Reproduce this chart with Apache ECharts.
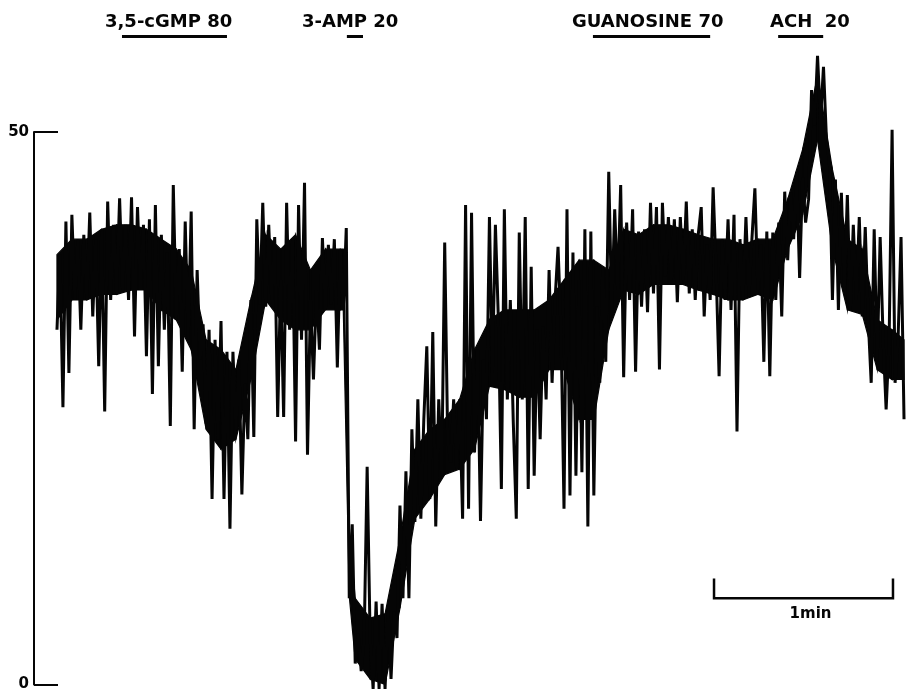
<!DOCTYPE html>
<html>
<head>
<meta charset="utf-8">
<script src="https://cdn.jsdelivr.net/npm/echarts@6/dist/echarts.min.js"></script>
<style>
html,body{margin:0;padding:0;background:#fff;}
#chart{width:907px;height:692px;}
</style>
</head>
<body>
<div id="chart"></div>
<script>
const traceValues = [
  32.1,38.9,25.1,41.9,28.2,42.5,34.8,40.3,32.1,40.7,34.8,42.7,33.3,40.3,28.8,41.2,24.7,43.7,34.8,41.6,
  35.3,44.0,35.7,41.6,34.8,44.1,31.5,43.2,35.7,41.6,29.7,42.1,26.3,43.4,28.8,40.7,32.1,39.1,23.4,45.2,
  33.0,39.4,28.3,41.9,31.2,42.8,23.1,37.5,
  29.4,32.6,23.6,32.1,16.8,31.2,22.2,32.9,16.8,30.1,14.1,30.1,23.1,29.4,17.2,27.2,22.2,34.8,22.4,42.1,
  34.4,43.6,34.2,41.6,34.8,40.5,24.2,36.6,24.2,43.6,32.1,40.3,22.0,43.4,31.2,45.4,20.8,34.8,27.6,35.7,
  30.3,40.4,33.9,39.8,34.4,40.3,28.7,39.4,33.9,41.3,
  7.8,14.5,1.9,4.6,1.2,4.2,19.7,4.2,-0.4,7.5,-0.4,7.3,-0.4,6.9,0.5,6.6,4.2,16.2,7.8,19.3,
  7.8,23.1,14.7,25.8,15.0,24.0,30.6,16.8,31.9,14.3,25.8,18.9,40.0,22.2,20.1,25.8,19.5,25.8,15.0,43.4,
  15.9,42.7,21.0,30.3,14.8,29.4,24.0,42.3,28.2,41.6,
  33.0,17.7,43.0,25.8,34.8,23.7,15.0,40.9,25.8,42.3,17.7,37.8,18.9,32.1,22.2,32.4,25.8,37.5,27.3,34.8,
  39.6,32.1,15.9,43.0,17.1,39.1,18.9,36.6,19.2,41.2,14.3,41.0,17.1,34.2,27.3,37.8,29.2,46.4,33.9,43.0,
  35.7,45.2,27.8,41.8,34.8,43.0,28.3,41.0,34.2,41.2,
  33.7,43.6,35.4,43.2,28.5,43.6,36.9,42.3,36.6,42.1,34.6,42.3,36.6,43.7,35.4,41.2,34.8,40.7,43.2,33.3,
  39.8,34.8,45.0,37.5,27.9,40.3,34.8,42.1,33.9,42.5,22.9,40.3,34.8,42.3,35.1,40.3,44.9,35.7,39.8,29.2,
  41.0,27.9,40.9,34.8,41.8,33.3,44.6,38.4,44.5,40.3,
  46.4,36.8,45.9,41.8,43.9,53.8,50.6,56.9,51.1,55.9,49.3,47.2,34.8,45.7,33.9,44.5,35.7,44.3,33.9,41.6,
  34.8,42.3,33.3,41.4,33.0,27.3,41.2,29.2,40.5,31.2,24.9,31.0,50.2,27.3,31.2,40.5,24.0
];
const timeStep = 1; // seconds per sample

// Dense core of the trace (solid black band): times (s), upper and lower edges
const bandTimes = [0,5,10,15,20,25,30,35,40,45,50,55,60,65,70,75,80,85,90,95,96,98,
  100,105,110,115,120,125,130,135,140,145,150,155,160,165,170,175,180,185,190,195,
  200,205,210,215,220,225,230,235,240,245,250,255,260,265,270,275,280,284];
const bandUpper = [38.9,40.3,40.3,41.2,41.6,41.6,41.2,40.3,39.4,37.5,31.2,30.3,28.5,34.8,40.7,39.4,40.7,37.5,39.4,39.4,39.4,14.0,
  7.8,6.0,6.4,13.2,21.3,23.1,24.0,25.8,30.3,33.0,33.9,33.9,33.9,34.8,36.6,38.4,38.4,37.5,41.2,40.7,
  41.6,41.6,41.2,40.7,40.3,40.3,39.8,40.3,40.3,43.9,48.4,55.1,46.6,40.3,39.4,33.0,32.1,31.2];
const bandLower = [33.0,34.8,34.8,35.3,35.3,35.7,35.7,33.9,33.0,30.3,23.1,21.3,22.2,27.6,34.8,33.0,32.1,32.1,33.9,33.9,33.9,8.0,
  2.3,0.5,0.0,6.9,15.0,16.8,19.0,19.5,21.3,27.0,26.7,26.0,26.0,28.5,28.5,24.0,24.0,32.1,35.7,35.3,
  36.2,36.2,36.2,35.7,35.3,34.8,34.8,35.3,34.8,39.4,42.5,49.3,39.4,33.9,33.5,28.5,27.6,27.6];

// Drug application periods (s) and labels
const drugLabels = ['3,5-cGMP 80', '3-AMP 20', 'GUANOSINE 70', 'ACH  20'];
const drugPeriods = [[21.8, 57.0], [97.2, 102.6], [179.7, 219.0], [241.8, 256.9]];
const drugBarLevel = 58.7;

// Time scale bar: 1 min
const scaleBar = { start: 220.3, end: 280.3, level: 7.8, tick: 9.6, label: '1min' };

const yTicks = [0, 50];

const INK = '#050505';
const traceData = traceValues.map((v, i) => [i * timeStep, v]);
const bandData = bandTimes.map((t, i) => [t, bandUpper[i], bandLower[i]]);

const chart = echarts.init(document.getElementById('chart'), null, { renderer: 'canvas' });

function renderBand(params, api) {
  const i = params.dataIndex;
  if (i >= bandData.length - 1) return null;
  const a = bandData[i], b = bandData[i + 1];
  const pts = [api.coord([a[0], a[1]]), api.coord([b[0], b[1]]),
               api.coord([b[0], b[2]]), api.coord([a[0], a[2]])];
  return {
    type: 'polygon',
    shape: { points: pts },
    style: { fill: INK, stroke: INK, lineWidth: 1.2 }
  };
}

const option = {
  animation: false,
  backgroundColor: '#ffffff',
  grid: { left: 34, right: 0, top: 132, bottom: 6 },
  xAxis: { type: 'value', min: -7.7, max: 285, show: false },
  yAxis: {
    type: 'value', min: yTicks[0], max: yTicks[1], interval: 50, z: 10,
    splitLine: { show: false },
    axisLine: { show: true, onZero: false, lineStyle: { color: INK, width: 2 } },
    axisTick: { show: true, inside: true, length: 24, lineStyle: { color: INK, width: 2 } },
    axisLabel: { color: INK, fontFamily: 'DejaVu Sans', fontWeight: 'bold', fontSize: 15, margin: 5 }
  },
  series: [
    {
      type: 'custom', data: bandData, renderItem: renderBand, clip: false, z: 1,
      encode: { x: 0, y: [1, 2] }
    },
    {
      type: 'line', data: traceData, showSymbol: false, clip: false, z: 3,
      lineStyle: { color: INK, width: 3 }
    },
    {
      type: 'lines', coordinateSystem: 'cartesian2d', clip: false,
      lineStyle: { color: INK, width: 3, opacity: 1 },
      data: drugPeriods.map(p => ({ coords: [[p[0], drugBarLevel], [p[1], drugBarLevel]] })),
      z: 4
    },
    {
      type: 'lines', coordinateSystem: 'cartesian2d', polyline: true, clip: false,
      lineStyle: { color: INK, width: 2.5, opacity: 1 },
      data: [{ coords: [[scaleBar.start, scaleBar.tick], [scaleBar.start, scaleBar.level],
                        [scaleBar.end, scaleBar.level], [scaleBar.end, scaleBar.tick]] }],
      z: 4
    }
  ]
};
chart.setOption(option);

// Text annotations placed next to their application bars
const labelX = [105, 302, 572, 770];
const g = drugLabels.map((t, i) => ({
  type: 'text', x: labelX[i], y: 22, z: 100,
  style: { text: t, fill: INK, fontFamily: 'DejaVu Sans', fontWeight: 'bold', fontSize: 18,
           verticalAlign: 'middle' }
}));
const sb = chart.convertToPixel({ gridIndex: 0 }, [(scaleBar.start + scaleBar.end) / 2, scaleBar.level]);
g.push({
  type: 'text', x: sb[0] + 7, y: sb[1] + 16, z: 100,
  style: { text: scaleBar.label, fill: INK, fontFamily: 'DejaVu Sans', fontWeight: 'bold', fontSize: 15,
           align: 'center', verticalAlign: 'middle' }
});
chart.setOption({ graphic: g });
</script>
</body>
</html>
